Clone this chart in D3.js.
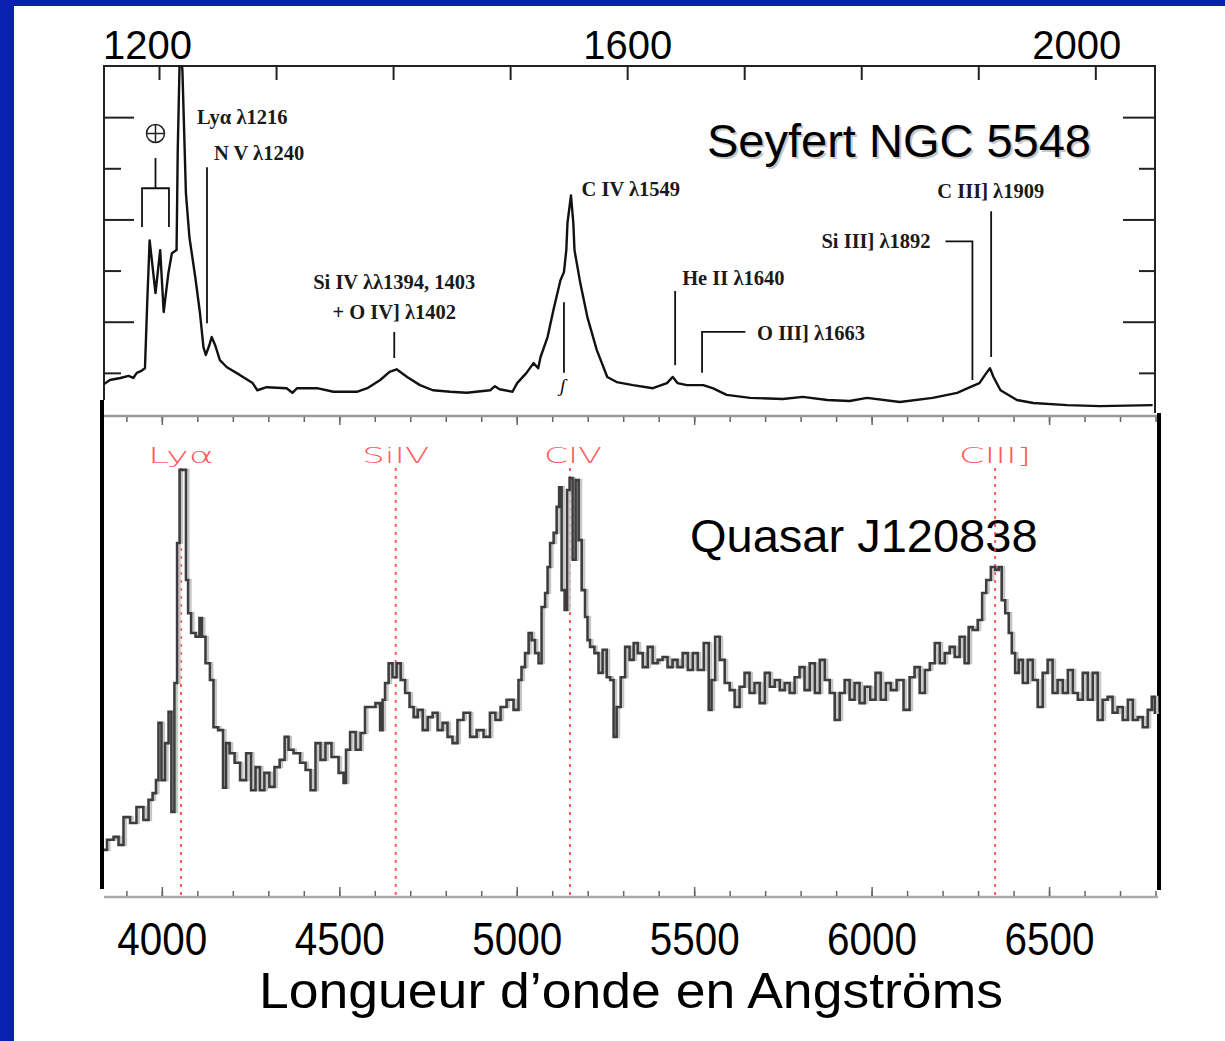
<!DOCTYPE html>
<html>
<head>
<meta charset="utf-8">
<script src="https://cdn.jsdelivr.net/npm/d3@7"></script>
<style>
  body { margin: 0; background: #fff; }
  svg { display: block; }
</style>
</head>
<body>
<div id="chart"></div>
<script>
// ---- data ----

// Seyfert NGC 5548, rest-frame wavelength (Angstrom) and relative flux
var seyfertWave = [1153,1158,1167,1174,1178,1181,1185,1188,1190,1192,1197,1201,1204,1208,1211,1215,1216,1218,1220,1223,
  1226,1231,1235,1238,1240,1243,1245,1248,1252,1258,1269,1280,1284,1292,1309,1314,1318,1335,1349,1369,
  1378,1389,1397,1403,1412,1423,1434,1449,1463,1483,1487,1491,1502,1506,1514,1520,1524,1526,1532,1537,
  1543,1546,1548,1549,1552,1554,1555,1560,1566,1574,1583,1591,1605,1622,1634,1639,1643,1651,1665,1673,
  1685,1705,1733,1750,1771,1790,1805,1833,1861,1882,1893,1901,1907,1910,1913,1919,1933,1947,1976,2004,2049];
var seyfertFlux = [0.78,0.86,0.90,0.94,0.90,1.00,1.04,1.09,2.42,3.59,2.56,3.40,2.19,2.95,3.34,3.40,5.35,7.50,6.91,4.51,
  3.65,2.87,2.17,1.50,1.35,1.54,1.70,1.54,1.25,1.11,0.96,0.80,0.66,0.72,0.70,0.61,0.70,0.70,0.63,0.63,
  0.70,0.86,1.02,1.07,0.92,0.76,0.66,0.63,0.61,0.66,0.74,0.68,0.63,0.80,1.00,1.19,1.09,1.31,1.70,2.23,
  2.81,2.97,3.40,3.93,4.47,3.93,3.40,2.75,2.09,1.45,0.92,0.82,0.76,0.70,0.80,0.92,0.80,0.76,0.76,0.70,
  0.57,0.51,0.49,0.53,0.47,0.45,0.51,0.43,0.51,0.61,0.72,0.80,1.00,1.09,0.92,0.66,0.47,0.41,0.37,0.35,0.37];

// Quasar J120838, observed wavelength (Angstrom) and relative flux
var quasarWave = [3837,3854,3874,3882,3902,3919,3938,3958,3967,3981,3986,3995,4003,4015,4023,4031,4040,4046,4054,4065,
  4071,4077,4088,4102,4110,4116,4130,4141,4150,4167,4178,4184,4198,4212,4229,4246,4257,4271,4282,4296,
  4310,4325,4339,4353,4361,4381,4398,4412,4426,4440,4454,4468,4488,4508,4516,4522,4539,4553,4567,4578,
  4595,4609,4621,4623,4635,4643,4657,4666,4680,4691,4705,4714,4728,4742,4756,4770,4784,4798,4812,4826,
  4840,4860,4877,4897,4916,4933,4947,4962,4981,5001,5009,5018,5029,5038,5046,5057,5066,5074,5086,5088,
  5100,5108,5117,5122,5131,5139,5145,5153,5162,5170,5179,5187,5198,5201,5212,5226,5235,5249,5258,5269,
  5277,5286,5300,5311,5325,5334,5348,5362,5376,5390,5404,5418,5432,5446,5460,5475,5489,5503,5517,5537,
  5545,5553,5565,5579,5593,5607,5621,5635,5649,5663,5677,5692,5706,5720,5734,5748,5762,5776,5790,5804,
  5818,5833,5847,5861,5875,5889,5903,5917,5931,5945,5959,5973,5988,6004,6018,6033,6047,6061,6080,6100,
  6114,6128,6143,6157,6171,6185,6199,6213,6227,6241,6255,6269,6278,6292,6306,6317,6329,6343,6354,6362,
  6371,6382,6391,6399,6410,6419,6433,6447,6461,6475,6489,6503,6517,6531,6546,6560,6574,6588,6602,6616,
  6630,6644,6658,6672,6686,6700,6715,6729,6743,6757,6771,6785,6794,6802];
var quasarFlux = [0.98,1.19,1.25,1.08,1.66,1.54,1.87,1.60,2.02,2.16,2.43,3.62,2.43,3.20,3.85,1.77,4.45,7.36,8.88,8.88,
  6.59,5.90,5.49,5.41,5.80,5.41,4.86,4.51,3.53,3.47,2.27,3.20,2.99,2.79,2.43,2.99,2.22,2.70,2.22,2.58,
  2.29,2.70,2.85,3.33,3.06,2.99,2.79,2.64,2.22,3.20,2.85,3.20,2.91,2.58,2.37,3.06,3.43,3.06,3.41,3.95,
  3.95,4.03,3.47,4.10,4.45,4.86,4.57,4.86,4.51,4.24,3.95,3.74,3.89,3.47,3.74,3.83,3.47,3.62,3.33,3.20,
  3.68,3.83,3.33,3.47,3.33,3.83,3.68,3.95,4.10,3.89,4.51,4.78,5.07,5.49,5.34,5.07,4.86,6.03,6.32,6.86,
  7.36,7.57,8.11,8.52,6.38,5.97,8.46,8.71,7.01,8.67,7.42,6.38,5.82,5.34,5.20,5.07,4.66,5.14,4.57,4.51,
  3.33,3.95,4.57,5.20,4.93,5.28,5.07,4.78,5.20,4.86,4.93,4.99,4.78,4.93,4.78,5.07,4.72,5.07,4.72,5.28,
  3.89,4.51,5.41,4.93,4.45,4.30,3.95,4.37,4.66,4.24,4.45,4.03,4.66,4.37,4.51,4.30,4.45,4.24,4.57,4.78,
  4.30,4.86,4.24,4.93,4.51,4.24,3.68,4.24,4.51,4.10,4.45,4.03,4.37,4.10,4.66,4.10,4.45,4.30,4.51,3.89,
  4.57,4.78,4.24,4.72,4.86,5.28,4.86,5.07,5.20,4.99,5.41,4.86,5.61,5.55,5.76,6.32,6.59,6.86,6.80,6.86,
  6.17,5.90,5.49,5.07,4.66,4.93,4.45,4.93,4.51,3.95,4.66,4.93,4.24,4.51,4.24,4.72,4.24,4.10,4.66,4.10,
  4.66,3.68,4.10,4.16,3.83,3.95,3.68,4.10,3.68,3.74,3.53,3.89,4.16,3.83];

// tick values
var topTicks = [1200,1300,1400,1500,1600,1700,1800,1900,2000];
var topTickLabels = [1200,1600,2000];
var sideMajor = [2,4,6];
var sideMinor = [1,3,5];
var quasarTicks = [3900,4000,4100,4200,4300,4400,4500,4600,4700,4800,4900,5000,5100,5200,5300,
  5400,5500,5600,5700,5800,5900,6000,6100,6200,6300,6400,6500,6600,6700,6800];
var quasarTickLabels = [4000,4500,5000,5500,6000,6500];

// emission-line identifications
var quasarLineNames = ["Lyα","SiIV","CIV","CIII]"];
var quasarLineWaves = [4054,4659,5150,6348];

var seyfertLabelText = ["Lyα λ1216","N V λ1240","Si IV λλ1394, 1403","+ O IV] λ1402","C IV λ1549",
  "He II λ1640","O III] λ1663","Si III] λ1892","C III] λ1909"];
var seyfertLabelWave = [1232.5,1247,1401,1401,1561,1647,1711,1766,1865];
var seyfertLabelFlux = [5.86,5.16,2.64,2.05,4.45,2.71,1.64,3.44,4.41];

// marker lines [wave, flux] polylines
var seyfertMarkers = [
  [[1241,5.02],[1241,1.97]],
  [[1401,1.80],[1401,1.29]],
  [[1546,2.38],[1546,1.00]],
  [[1641,2.60],[1641,1.15]],
  [[1701,1.80],[1664,1.80],[1664,1.00]],
  [[1872,3.57],[1895,3.57],[1895,0.86]],
  [[1911,4.16],[1911,1.31]],
  [[1197,5.20],[1197,4.61]],
  [[1185.5,3.85],[1185.5,4.61],[1208.5,4.61],[1208.5,3.85]]
];

// ---- drawing ----
var width = 1225, height = 1041;

var svg = d3.select("#chart").append("svg")
  .attr("width", width)
  .attr("height", height);

// blue slide frame
svg.append("rect").attr("x",0).attr("y",0).attr("width",width).attr("height",6).attr("fill","#0a20b0");
svg.append("rect").attr("x",0).attr("y",0).attr("width",14).attr("height",height).attr("fill","#0a20b0");

// scales
var xTop = d3.scaleLinear().domain([1153, 2051]).range([104, 1155]);
var yTop = d3.scaleLinear().domain([0, 7]).range([424, 66]);
var xQ = d3.scaleLinear().domain([3837, 6807]).range([104, 1158]);
var yQ = d3.scaleLinear().domain([0, 10]).range([897, 416]);

// ---------- upper panel (Seyfert) ----------
var upper = svg.append("g").attr("class","seyfert");

svg.append("clipPath").attr("id","clipTop")
  .append("rect").attr("x",104).attr("y",66).attr("width",1051).attr("height",347);

// frame: top, left and right sides only
upper.append("path")
  .attr("d","M104,400V66H1155V413")
  .attr("fill","none").attr("stroke","#222").attr("stroke-width",2);

var axTop = upper.append("g")
  .attr("transform","translate(0,66)")
  .call(d3.axisTop(xTop).tickValues(topTicks).tickSize(-14).tickFormat(""));
axTop.select(".domain").remove();
axTop.selectAll("line").attr("stroke","#222").attr("stroke-width",2);

var axTopLab = svg.append("g")
  .attr("transform","translate(0,66)")
  .call(d3.axisTop(xTop).tickValues(topTickLabels).tickSize(0).tickPadding(7).tickFormat(d3.format("d")));
axTopLab.select(".domain").remove();
axTopLab.selectAll("text")
  .attr("fill","#000")
  .attr("dx", function(d) { return d == 1200 ? -12 : (d == 2000 ? -19 : 0); })
  .style("font-family","Liberation Sans, Arial, sans-serif")
  .style("font-size","40px");

function sideAxis(axis, x, values, len) {
  var g = upper.append("g")
    .attr("transform","translate(" + x + ",0)")
    .call(axis(yTop).tickValues(values).tickSize(-len).tickFormat(""));
  g.select(".domain").remove();
  g.selectAll("line").attr("stroke","#222").attr("stroke-width",2);
}
sideAxis(d3.axisLeft, 104, sideMajor, 30);
sideAxis(d3.axisLeft, 104, sideMinor, 17);
sideAxis(d3.axisRight, 1155, sideMajor, 32);
sideAxis(d3.axisRight, 1155, sideMinor, 16);

var seyfertLine = d3.line()
  .x(function(d) { return xTop(d[0]); })
  .y(function(d) { return yTop(d[1]); });

upper.append("path")
  .datum(seyfertWave.map(function(w, i) { return [w, seyfertFlux[i]]; }))
  .attr("clip-path","url(#clipTop)")
  .attr("d", seyfertLine)
  .attr("fill","none")
  .attr("stroke","#111")
  .attr("stroke-width",2.4)
  .attr("stroke-linejoin","round");

upper.selectAll(".marker")
  .data(seyfertMarkers).enter()
  .append("path")
  .attr("class","marker")
  .attr("d", seyfertLine)
  .attr("fill","none")
  .attr("stroke","#111")
  .attr("stroke-width",1.8);

// earth symbol
var earth = upper.append("g")
  .attr("transform","translate(" + xTop(1197) + "," + yTop(5.68) + ")");
earth.append("circle").attr("r",9).attr("fill","none").attr("stroke","#222").attr("stroke-width",1.5);
earth.append("line").attr("x1",-9).attr("x2",9).attr("stroke","#222").attr("stroke-width",1.5);
earth.append("line").attr("y1",-9).attr("y2",9).attr("stroke","#222").attr("stroke-width",1.5);

upper.append("text")
  .attr("x", xTop(1545)).attr("y", yTop(0.62))
  .attr("text-anchor","middle")
  .style("font-family","Liberation Serif, serif")
  .style("font-style","italic")
  .style("font-size","19px")
  .text("ʃ");

upper.selectAll(".note")
  .data(seyfertLabelText).enter()
  .append("text")
  .attr("class","note")
  .attr("x", function(d, i) { return xTop(seyfertLabelWave[i]); })
  .attr("y", function(d, i) { return yTop(seyfertLabelFlux[i]); })
  .attr("text-anchor", function(d, i) { return (i == 2 || i == 3) ? "middle" : "start"; })
  .attr("fill","#1a1a1a")
  .style("font-family","Liberation Serif, Times New Roman, serif")
  .style("font-weight","bold")
  .style("font-size","20.5px")
  .text(function(d) { return d; });

upper.append("text")
  .attr("x",709).attr("y",159)
  .attr("fill","#c8c8c8")
  .style("font-family","Liberation Sans, Arial, sans-serif")
  .style("font-size","47px")
  .text("Seyfert NGC 5548");
upper.append("text")
  .attr("x",707).attr("y",157)
  .attr("fill","#000")
  .style("font-family","Liberation Sans, Arial, sans-serif")
  .style("font-size","47px")
  .text("Seyfert NGC 5548");

// ---------- lower panel (quasar) ----------
var lower = svg.append("g").attr("class","quasar");

function qAxis(axis, y, values, len) {
  var g = lower.append("g")
    .attr("transform","translate(0," + y + ")")
    .call(axis(xQ).tickValues(values).tickSize(len).tickFormat(""));
  g.select(".domain").remove();
  g.selectAll("line").attr("stroke","#666").attr("stroke-width",1.5);
}
lower.append("line").attr("x1",104).attr("x2",1158).attr("y1",416).attr("y2",416)
  .attr("stroke","#999").attr("stroke-width",2.5);
lower.append("line").attr("x1",104).attr("x2",1158).attr("y1",897).attr("y2",897)
  .attr("stroke","#aaa").attr("stroke-width",2.5);
qAxis(d3.axisBottom, 417, quasarTicks, 5);
qAxis(d3.axisBottom, 417, quasarTickLabels, 8);
qAxis(d3.axisTop, 896, quasarTicks, 5);
qAxis(d3.axisTop, 896, quasarTickLabels, 9);

// thick side bars
lower.append("line").attr("x1",102).attr("x2",102).attr("y1",400).attr("y2",889)
  .attr("stroke","#000").attr("stroke-width",4);
lower.append("line").attr("x1",1159).attr("x2",1159).attr("y1",413).attr("y2",890)
  .attr("stroke","#000").attr("stroke-width",4);

lower.append("text")
  .attr("x",690).attr("y",552)
  .attr("fill","#000")
  .style("font-family","Liberation Sans, Arial, sans-serif")
  .style("font-size","47px")
  .text("Quasar J120838");

// identification lines
lower.selectAll(".idline")
  .data(quasarLineWaves).enter()
  .append("line")
  .attr("class","idline")
  .attr("x1", function(d) { return xQ(d); })
  .attr("x2", function(d) { return xQ(d); })
  .attr("y1", 468)
  .attr("y2", 897)
  .attr("stroke","#ff3c3c")
  .attr("stroke-width",2)
  .attr("stroke-dasharray","3,5")
  .attr("opacity",0.85);

var idWidths = [66, 67, 58, 72];
lower.selectAll(".idlabel")
  .data(quasarLineNames).enter()
  .append("text")
  .attr("class","idlabel")
  .attr("x", function(d, i) { return xQ(quasarLineWaves[i]) + (i == 2 ? 3 : 0); })
  .attr("y", 463)
  .attr("text-anchor","middle")
  .attr("textLength", function(d, i) { return idWidths[i]; })
  .attr("lengthAdjust","spacingAndGlyphs")
  .attr("fill","#ff5a5a")
  .style("font-family","DejaVu Sans, sans-serif")
  .style("font-weight","200")
  .style("font-size","22px")
  .text(function(d) { return d; });

var qData = quasarWave.map(function(w, i) { return [w, quasarFlux[i]]; });
var qLine = d3.line()
  .curve(d3.curveStep)
  .x(function(d) { return xQ(d[0]); })
  .y(function(d) { return yQ(d[1]); });

lower.append("path")
  .datum(qData)
  .attr("transform","translate(2.5,0)")
  .attr("d", qLine)
  .attr("fill","none")
  .attr("stroke","#c6c6c6")
  .attr("stroke-width",2.2);

lower.append("path")
  .datum(qData)
  .attr("d", qLine)
  .attr("fill","none")
  .attr("stroke","#3d3d3d")
  .attr("stroke-width",2.6);

// bottom tick labels
var axLab = lower.append("g")
  .attr("transform","translate(0,897)")
  .call(d3.axisBottom(xQ).tickValues(quasarTickLabels).tickSize(0).tickPadding(25).tickFormat(d3.format("d")));
axLab.select(".domain").remove();
axLab.selectAll("text")
  .attr("fill","#000")
  .attr("textLength",90)
  .attr("lengthAdjust","spacingAndGlyphs")
  .style("font-family","Liberation Sans Narrow, Arial Narrow, Liberation Sans, sans-serif")
  .style("font-size","46px");

svg.append("text")
  .attr("x",631).attr("y",1008)
  .attr("text-anchor","middle")
  .attr("textLength",744)
  .attr("lengthAdjust","spacingAndGlyphs")
  .attr("fill","#000")
  .style("font-family","Liberation Sans Narrow, Arial Narrow, Liberation Sans, sans-serif")
  .style("font-size","50px")
  .text("Longueur d’onde en Angströms");
</script>
</body>
</html>
